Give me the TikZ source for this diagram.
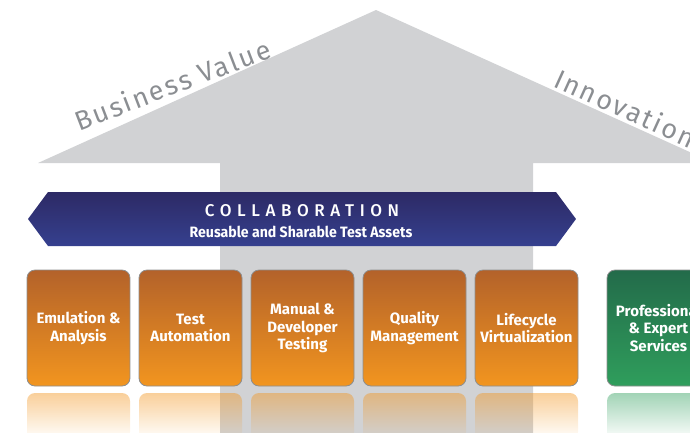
\documentclass[tikz,border=0pt]{standalone}
\usepackage{fontspec}
\setmainfont{Fira Sans}
\newfontfamily\condfont[FakeStretch=0.94]{Fira Sans}
\newfontfamily\medfont[LetterSpace=33]{Fira Sans Medium}
\usetikzlibrary{fadings}

\definecolor{arrowgray}{HTML}{D1D2D4}
\definecolor{slopegray}{HTML}{8B8E92}
\definecolor{bannertop}{HTML}{2D2A65}
\definecolor{bannerbot}{HTML}{35408F}
\definecolor{tiletop}{HTML}{B3622A}
\definecolor{tilebot}{HTML}{F2951F}
\definecolor{greentop}{HTML}{236B4A}
\definecolor{greenbot}{HTML}{2F9E5C}
\definecolor{tileedge}{HTML}{8E8E8E}

\tikzset{
  tile/.style={rounded corners=8pt, draw=tileedge, line width=0.8pt,
    minimum width=103pt, minimum height=116pt, inner sep=0pt,
    text=white, align=center, font=\fontsize{15}{17.5}\selectfont\bfseries},
  orangetile/.style={tile, top color=tiletop, bottom color=tilebot},
  greentile/.style={tile, top color=greentop, bottom color=greenbot},
  mirror/.style={fill=#1, fill opacity=0.45, path fading=south},
  slopetext/.style={text=slopegray, inner sep=0pt,
    font=\fontsize{27}{27}\selectfont\addfontfeature{LetterSpace=8}},
}

\begin{document}
\begin{tikzpicture}[x=1pt,y=-1pt]
  \clip (0,0) rectangle (690,432);
  % big arrow
  \fill[arrowgray] (38,163) -- (376,10) -- (714,163) -- (533,163)
    -- (533,440) -- (220,440) -- (220,163) -- cycle;
  \node[slopetext, rotate=21, anchor=base] (value) at (176,94) {Business Value};
  \node[slopetext, rotate=-24.4, anchor=base west] (innov) at (552,86) {Innovation};
  % banner
  \shade[top color=bannertop, bottom color=bannerbot]
    (28,219) -- (48,192) -- (556,192) -- (576,219) -- (556,246) -- (48,246) -- cycle;
  \node[text=white, inner sep=0pt,
    font=\fontsize{17}{17}\selectfont\medfont] (collab) at (302,211) {COLLABORATION};
  \node[text=white, inner sep=0pt,
    font=\fontsize{15}{15}\selectfont\condfont\bfseries] (assets) at (301,232) {Reusable and Sharable Test Assets};
  % tiles
  \node[orangetile] (emu) at (78.5,328) {Emulation \&\\Analysis};
  \node[orangetile] (auto) at (190.5,328) {Test\\Automation};
  \node[orangetile] (manual) at (302.5,328) {Manual \&\\Developer\\Testing};
  \node[orangetile] (quality) at (414.5,328) {Quality\\Management};
  \node[orangetile] (life) at (526.5,328) {Lifecycle\\Virtualization};
  \node[greentile] (pro) at (658.5,328) {Professional\\\& Expert\\Services};
  % reflections
  \fill[mirror=tilebot, rounded corners=8pt] (27,440) |- (130,393) -- (130,440) -- cycle;
  \fill[mirror=tilebot, rounded corners=8pt] (139,440) |- (242,393) -- (242,440) -- cycle;
  \fill[mirror=tilebot, rounded corners=8pt] (251,440) |- (354,393) -- (354,440) -- cycle;
  \fill[mirror=tilebot, rounded corners=8pt] (363,440) |- (466,393) -- (466,440) -- cycle;
  \fill[mirror=tilebot, rounded corners=8pt] (475,440) |- (578,393) -- (578,440) -- cycle;
  \fill[mirror=greenbot, rounded corners=8pt] (607,440) |- (710,393) -- (710,440) -- cycle;
\end{tikzpicture}
\end{document}
